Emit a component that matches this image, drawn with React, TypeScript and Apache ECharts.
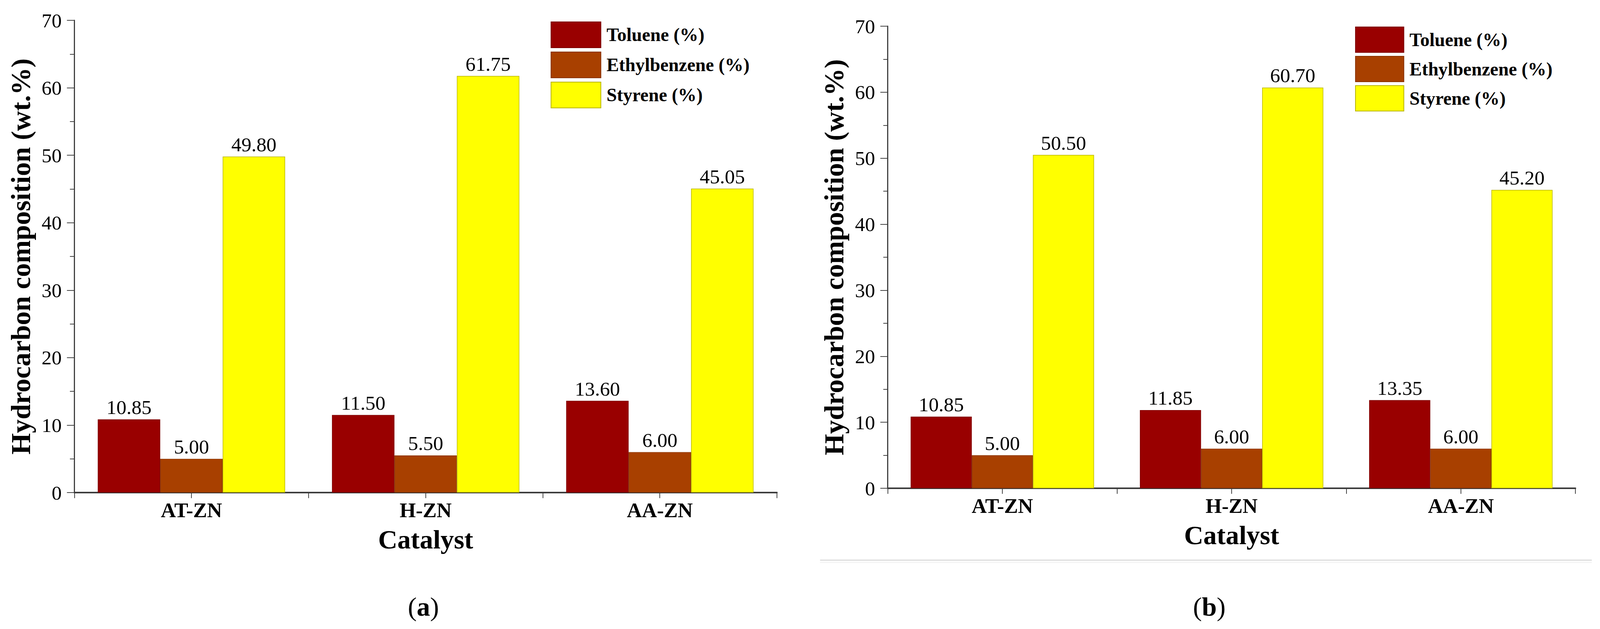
import React, { useEffect, useRef, useState } from "react";
import * as echarts from "echarts";

const categories = ["AT-ZN", "H-ZN", "AA-ZN"];
const seriesNames = ["Toluene (%)", "Ethylbenzene (%)", "Styrene (%)"];
const tolueneA = [10.85, 11.5, 13.6];
const ethylbenzeneA = [5.0, 5.5, 6.0];
const styreneA = [49.8, 61.75, 45.05];
const tolueneB = [10.85, 11.85, 13.35];
const ethylbenzeneB = [5.0, 6.0, 6.0];
const styreneB = [50.5, 60.7, 45.2];
const yMin = 0;
const yMax = 70;
const yInterval = 10;
const xTitle = "Catalyst";
const yTitle = "Hydrocarbon composition (wt.%)";
const panelLetters = ["a", "b"];

const fills = ["#990000", "#A84000", "#FFFF00"];
const borders = ["#7d0000", "#8a3300", "#b8b400"];
const FONT = "'Liberation Serif', 'Times New Roman', serif";
const AXIS = "#3c3c3c";
const REF_W = 4304;
const REF_H = 1609;

export default function App() {
  const ref = useRef<HTMLDivElement>(null);
  const [size] = useState(() => {
    document.body.style.margin = "0";
    document.body.style.overflow = "hidden";
    return {
      w: Math.max(100, window.innerWidth || REF_W),
      h: Math.max(100, window.innerHeight || REF_H),
    };
  });
  useEffect(() => {
    if (!ref.current) return;
    const chart = echarts.init(ref.current, undefined, { renderer: "svg" });
    const kx = size.w / REF_W;
    const ky = size.h / REF_H;
    const k = Math.min(kx, ky);
    const X = (v: number) => v * kx;
    const Y = (v: number) => v * ky;
    const F = (v: number) => Math.round(v * k * 10) / 10;

    const grids = [
      { left: X(200), top: Y(52), width: X(1890), height: Y(1208) },
      { left: X(2388), top: Y(67), width: X(1850), height: Y(1182) },
    ];

    const mainX = (gi: number) => ({
      type: "category",
      gridIndex: gi,
      data: categories,
      position: "bottom",
      axisLine: { show: true, onZero: false, lineStyle: { color: AXIS, width: F(4) } },
      axisTick: { show: true, alignWithLabel: false, length: F(15), lineStyle: { color: AXIS, width: F(2) } },
      axisLabel: { show: true, margin: F(20), fontFamily: FONT, fontWeight: "bold", fontSize: F(56), color: "#000" },
      name: xTitle,
      nameLocation: "middle",
      nameGap: F(90),
      nameTextStyle: { fontFamily: FONT, fontWeight: "bold", fontSize: F(72), color: "#000" },
      splitLine: { show: false },
    });
    const tickX = (gi: number) => ({
      type: "category",
      gridIndex: gi,
      data: categories,
      position: "bottom",
      axisLine: { show: false },
      axisTick: { show: true, alignWithLabel: true, length: F(15), lineStyle: { color: AXIS, width: F(2) } },
      axisLabel: { show: false },
      splitLine: { show: false },
    });
    const yAx = (gi: number) => ({
      type: "value",
      gridIndex: gi,
      min: yMin,
      max: yMax,
      interval: yInterval,
      axisLine: { show: true, lineStyle: { color: AXIS, width: F(3) } },
      axisTick: { show: true, length: F(20), lineStyle: { color: AXIS, width: F(2) } },
      minorTick: { show: true, splitNumber: 2, length: F(12), lineStyle: { color: AXIS, width: F(2) } },
      axisLabel: { margin: F(34), fontFamily: FONT, fontSize: F(54), color: "#000" },
      splitLine: { show: false },
      name: yTitle,
      nameLocation: "middle",
      nameRotate: 90,
      nameGap: F(108),
      nameTextStyle: { fontFamily: FONT, fontWeight: "bold", fontSize: F(74), color: "#000" },
    });

    const mk = (name: string, data: number[], idx: number, xi: number, yi: number) => ({
      type: "bar",
      name,
      data,
      xAxisIndex: xi,
      yAxisIndex: yi,
      barGap: "0%",
      barCategoryGap: "20%",
      itemStyle: { color: fills[idx], borderColor: borders[idx], borderWidth: F(1.5) },
      label: {
        show: true,
        position: "top",
        distance: F(6),
        fontFamily: FONT,
        fontSize: F(54),
        color: "#000",
        formatter: (p: any) => Number(p.value).toFixed(2),
      },
    });

    const legendBase = {
      orient: "vertical",
      data: seriesNames,
      icon: "rect",
      selectedMode: false,
      textStyle: { fontFamily: FONT, fontWeight: "bold", fontSize: F(50), color: "#000", padding: [0, 0, 0, F(10)] },
    };

    const letterText = (letter: string, x: number) => ({
      type: "text",
      x: X(x),
      y: Y(1552),
      style: {
        text: "{p|(}{b|" + letter + "}{p|)}",
        align: "center",
        verticalAlign: "middle",
        rich: {
          p: { fontFamily: FONT, fontSize: F(72), fill: "#000" },
          b: { fontFamily: FONT, fontSize: F(72), fontWeight: "bold", fill: "#000" },
        },
      },
    });

    chart.setOption({
      animation: false,
      backgroundColor: "#ffffff",
      grid: grids,
      xAxis: [mainX(0), tickX(0), mainX(1), tickX(1)],
      yAxis: [yAx(0), yAx(1)],
      legend: [
        { ...legendBase, left: X(1476), top: Y(50), itemWidth: X(134), itemHeight: Y(66), itemGap: Y(9) },
        { ...legendBase, left: X(3640), top: Y(63), itemWidth: X(130), itemHeight: Y(65), itemGap: Y(8) },
      ],
      series: [
        mk(seriesNames[0], tolueneA, 0, 0, 0),
        mk(seriesNames[1], ethylbenzeneA, 1, 0, 0),
        mk(seriesNames[2], styreneA, 2, 0, 0),
        mk(seriesNames[0], tolueneB, 0, 2, 1),
        mk(seriesNames[1], ethylbenzeneB, 1, 2, 1),
        mk(seriesNames[2], styreneB, 2, 2, 1),
      ],
      graphic: [
        letterText(panelLetters[0], 1139),
        letterText(panelLetters[1], 3253),
        { type: "line", shape: { x1: X(2206), y1: Y(1433), x2: X(4282), y2: Y(1433) }, style: { stroke: "#e3e3e3", lineWidth: F(4) } },
        { type: "line", shape: { x1: X(2206), y1: Y(1439), x2: X(4282), y2: Y(1439) }, style: { stroke: "#efefef", lineWidth: F(2) } },
      ],
    });
    return () => chart.dispose();
  }, [size]);
  return <div ref={ref} style={{ width: size.w, height: size.h }} />;
}
